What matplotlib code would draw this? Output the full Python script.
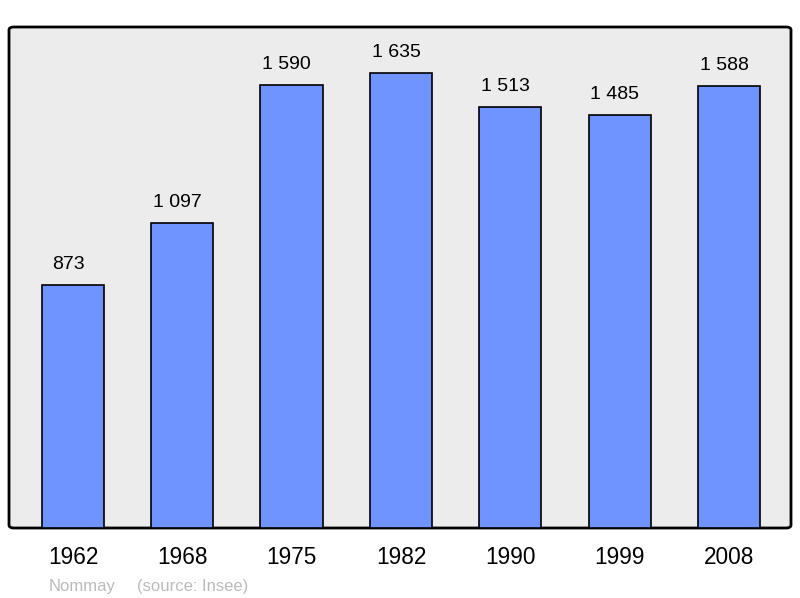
import matplotlib.pyplot as plt
from matplotlib.patches import FancyBboxPatch

years = ["1962", "1968", "1975", "1982", "1990", "1999", "2008"]
population = [873, 1097, 1590, 1635, 1513, 1485, 1588]
value_labels = ["873", "1 097", "1 590", "1 635", "1 513", "1 485", "1 588"]
town = "Nommay"
source = "(source: Insee)"

plt.rcParams["font.family"] = ["Liberation Sans", "DejaVu Sans"]

W, H = 800, 598
fig = plt.figure(figsize=(W / 100, H / 100), dpi=100)
ax = fig.add_axes([9 / W, 70 / H, 782 / W, 501 / H])
ax.set_xlim(-0.585, 6.567)
ax.set_ylim(0, 1800)
ax.axis("off")

# rounded frame with grey fill
frame = FancyBboxPatch(
    (0, 0), 1, 1,
    boxstyle="round,pad=0,rounding_size=0.006",
    transform=ax.transAxes,
    facecolor="#ececec",
    edgecolor="black",
    linewidth=2,
    zorder=0,
    clip_on=False,
)
ax.add_patch(frame)

x = range(len(years))
ax.bar(x, population, width=0.57, color="#7094ff", edgecolor="black",
       linewidth=1.2, zorder=2)

px = 72 / 100  # points per pixel
for i, (v, lab) in enumerate(zip(population, value_labels)):
    ax.annotate(lab, (i, v), xytext=(-5 * px, 16 * px),
                textcoords="offset points", ha="center", va="baseline",
                fontsize=14, color="black")
    ax.annotate(years[i], (i, 0), xytext=(0, -36 * px),
                textcoords="offset points", ha="center", va="baseline",
                fontsize=16.3, color="black", annotation_clip=False)

fig.text(49 / W, 1 - 591 / H, town, ha="left", va="baseline",
         fontsize=12, color="#bbbbbb")
fig.text(137 / W, 1 - 591 / H, source, ha="left", va="baseline",
         fontsize=12, color="#bbbbbb")

plt.savefig("out.png", dpi=100)
